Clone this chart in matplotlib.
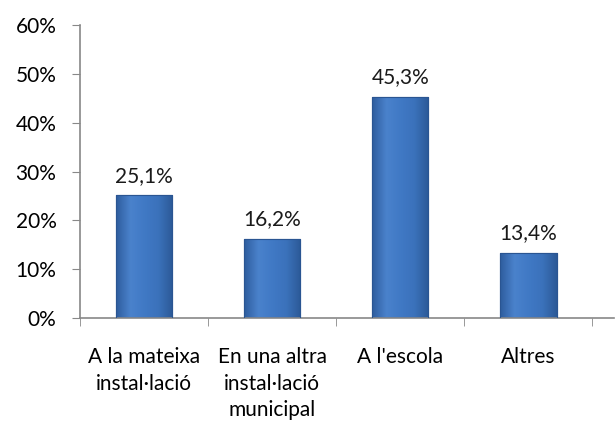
import matplotlib
matplotlib.use("Agg")
import matplotlib.pyplot as plt
import numpy as np
from matplotlib.colors import LinearSegmentedColormap
from matplotlib.ticker import FixedLocator, PercentFormatter

categories = ["A la mateixa\ninstal·lació", "En una altra\ninstal·lació\nmunicipal",
              "A l'escola", "Altres"]
values = [25.1, 16.2, 45.3, 13.4]
value_labels = ["25,1%", "16,2%", "45,3%", "13,4%"]

plt.rcParams["font.family"] = ["Lato", "DejaVu Sans"]

fig = plt.figure(figsize=(6.16, 4.26), dpi=100)
ax = fig.add_axes([0.13, 0.2535, 0.867, 0.6875])

x = np.arange(len(categories))
bars = ax.bar(x, values, width=0.44, color="#3b70b9", edgecolor="#2a5592", lw=0.8, zorder=2)

# horizontal shading across each bar to mimic the bevelled Excel look
bevel = LinearSegmentedColormap.from_list(
    "bevel", ["#2f5e9f", "#4a82cc", "#4079c5", "#3b72bb", "#2c5a98"])
grad = np.linspace(0, 1, 50)[None, :]
for b in bars:
    x0, w, h = b.get_x(), b.get_width(), b.get_height()
    im = ax.imshow(grad, cmap=bevel, aspect="auto",
                   extent=[x0, x0 + w, 0, h], zorder=2.5, interpolation="bilinear")
    im.set_clip_path(b)
    ax.bar(b.get_x() + w / 2, h, width=w, fill=False, edgecolor="#2a5592", lw=0.8, zorder=3)

for xi, v, lab in zip(x, values, value_labels):
    ax.annotate(lab, (xi, v), xytext=(0, 7), textcoords="offset points",
                ha="center", va="bottom", fontsize=15, color="#1a1a1a")

ax.set_xlim(-0.5, 3.67)
ax.set_ylim(0, 60)
ax.set_yticks(np.arange(0, 61, 10))
ax.yaxis.set_major_formatter(PercentFormatter(decimals=0))
ax.set_xticks(x)
ax.set_xticklabels(categories, fontsize=15, linespacing=1.4)
ax.xaxis.set_minor_locator(FixedLocator(np.arange(-0.5, 3.6, 1)))
ax.tick_params(axis="x", which="major", length=0, pad=21)
ax.tick_params(axis="x", which="minor", length=6, color="#888888", direction="out")
ax.tick_params(axis="y", length=6, color="#888888", labelsize=15, pad=11)
for lab in ax.get_xticklabels():
    lab.set_va("top")

for s in ["top", "right"]:
    ax.spines[s].set_visible(False)
for s in ["left", "bottom"]:
    ax.spines[s].set_color("#888888")
    ax.spines[s].set_linewidth(1.2)

fig.savefig("out.png", dpi=100)
